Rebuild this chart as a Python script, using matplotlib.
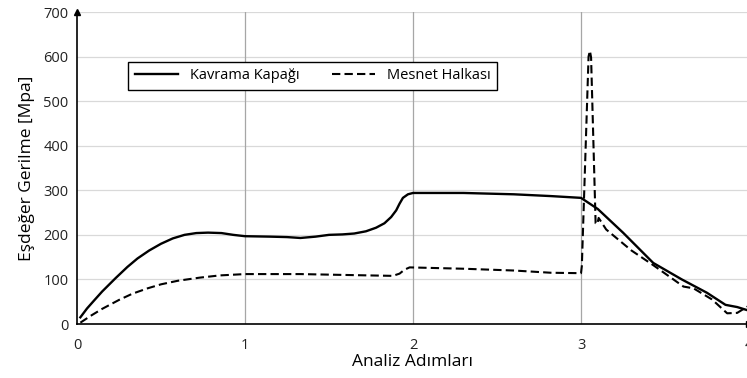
import matplotlib.pyplot as plt

# Kavrama Kapağı (solid)
kk_x = [0.02, 0.06, 0.1, 0.15, 0.23, 0.3, 0.36, 0.43, 0.5, 0.57, 0.64, 0.71, 0.78, 0.86, 0.93, 1.0, 1.15, 1.25, 1.33,
        1.42, 1.5, 1.58, 1.65, 1.72, 1.78, 1.83, 1.87, 1.9, 1.92, 1.94, 1.97, 2.0, 2.3, 2.6, 2.82, 3.0,
        3.1, 3.25, 3.43, 3.6, 3.75, 3.86, 3.93, 3.99]
kk_y = [15, 35, 52, 73, 103, 128, 147, 165, 180, 192, 200, 204, 205, 204, 200, 197, 196, 195, 193,
        196, 200, 201, 203, 208, 216, 226, 240, 255, 270, 283, 291, 294, 294, 291, 287, 283,
        258, 205, 137, 100, 70, 43, 38, 31]

# Mesnet Halkası (dashed)
mh_x = [0.02, 0.08, 0.15, 0.25, 0.33, 0.42, 0.5, 0.6, 0.73, 0.85, 1.0, 1.33, 1.6, 1.88, 1.92, 1.95, 1.98, 2.3, 2.6, 2.82, 3.0,
        3.005, 3.045, 3.053, 3.06, 3.087, 3.097, 3.105, 3.15, 3.3, 3.43, 3.55, 3.61, 3.67, 3.78, 3.87, 3.93, 3.99]
mh_y = [3, 18, 34, 54, 68, 80, 89, 97, 104, 109, 112, 112, 110, 108, 113, 122, 127, 124, 120, 115, 114,
        130, 600, 613, 598, 226, 224, 238, 212, 165, 132, 100, 84, 80, 55, 24, 25, 39]

y_ticks = [0, 100, 200, 300, 400, 500, 600, 700]
x_ticks = [0, 1, 2, 3, 4]

plt.rcParams['font.family'] = ['Open Sans', 'DejaVu Sans']

fig = plt.figure(figsize=(7.47, 3.78), dpi=100)
ax = fig.add_axes([77/747, 54/378, 672/747, 312/378])

ax.plot(kk_x, kk_y, color='black', lw=1.7, label='Kavrama Kapağı', solid_joinstyle='round')
ax.plot(mh_x, mh_y, color='black', lw=1.5, ls=(0, (4, 2)), label='Mesnet Halkası')

ax.set_xlim(0, 4)
ax.set_ylim(0, 700)
ax.set_xticks(x_ticks)
ax.set_yticks(y_ticks)
ax.tick_params(length=0, labelsize=10.5, pad=6, colors='#222222')
ax.tick_params(axis='x', pad=10)

for y in y_ticks[1:]:
    ax.axhline(y, color='#d9d9d9', lw=0.9, zorder=0)
for x in x_ticks[1:4]:
    ax.axvline(x, color='#a6a6a6', lw=0.9, zorder=0)

for s in ['top', 'right']:
    ax.spines[s].set_visible(False)
ax.spines['left'].set_linewidth(1.2)
ax.spines['bottom'].set_linewidth(1.2)

# axis arrows
ax.plot(0, 1, '^k', ms=5, transform=ax.transAxes, clip_on=False)
ax.plot(1, 0, '>k', ms=5, transform=ax.transAxes, clip_on=False)

ax.set_xlabel('Analiz Adımları', fontsize=12.5, labelpad=1)
ax.set_ylabel('Eşdeğer Gerilme [Mpa]', fontsize=12.5, labelpad=6)

leg = ax.legend(ncol=2, loc='center left', bbox_to_anchor=(0.065, 0.795), fontsize=10.5,
                frameon=True, fancybox=False, edgecolor='black', framealpha=1,
                handlelength=3.0, columnspacing=2.2, borderpad=0.45)
leg.get_frame().set_linewidth(1.0)

plt.savefig('out.png', dpi=100)
